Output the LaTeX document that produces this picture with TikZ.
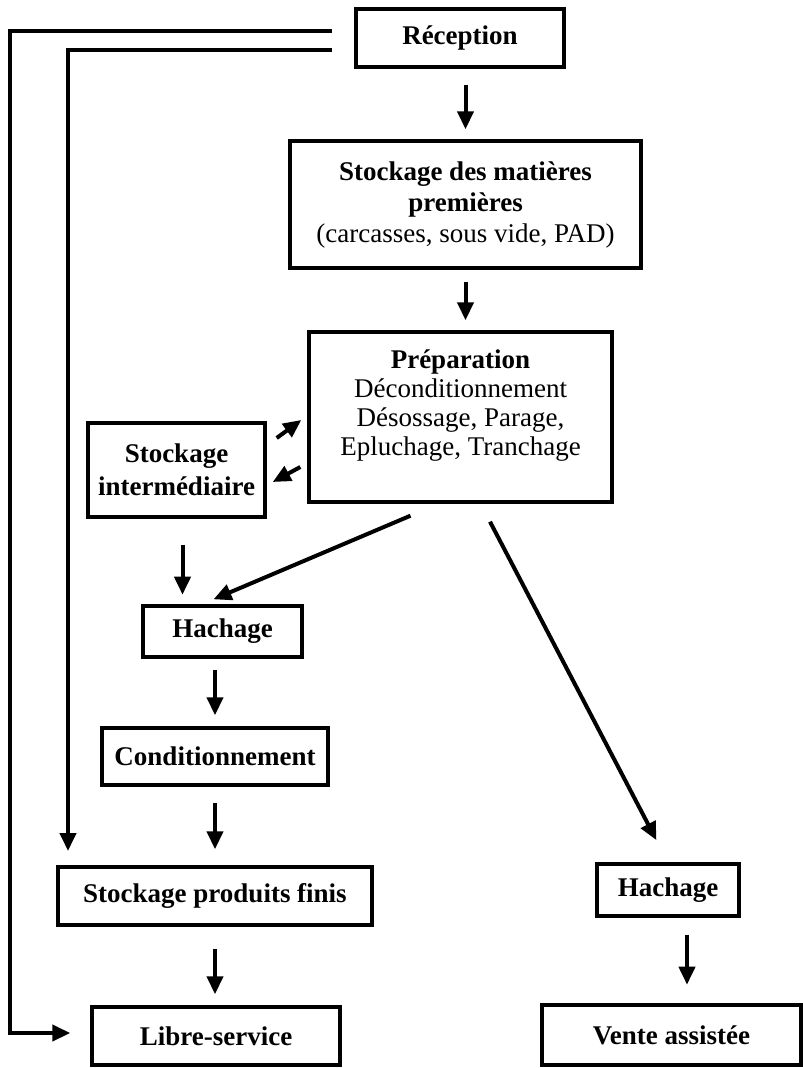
\documentclass[tikz,border=0pt]{standalone}
\usepackage{fontspec}
\setmainfont{Liberation Serif}
\usetikzlibrary{arrows.meta,calc}
\tikzset{
  box/.style={draw=black, line width=3.4pt, inner sep=0pt, align=center,
    font=\fontsize{27}{31}\selectfont\bfseries},
  arr/.style={draw=black, line width=4pt, -{Triangle[length=18pt,width=16pt]}}
}
\begin{document}
\begin{tikzpicture}[x=1pt,y=-1pt]
\useasboundingbox (0,0) rectangle (803,1068);
% boxes
\node[box, minimum width=208, minimum height=58] (rec) at (460,38) {R\'eception};
\node[box, minimum width=351, minimum height=127] (smp) at (465.5,204.5)
  {Stockage des mati\`eres\\premi\`eres\\\mdseries(carcasses, sous vide, PAD)};
\node[box, minimum width=303, minimum height=170, font=\fontsize{27}{29}\selectfont] (prep) at (460.5,417)
  {\bfseries Pr\'eparation\\D\'econditionnement\\D\'esossage, Parage,\\Epluchage, Tranchage\\\mbox{}};
\node[box, minimum width=177, minimum height=94, font=\fontsize{27}{33}\selectfont\bfseries] (si) at (176.5,470)
  {Stockage\\interm\'ediaire};
\node[box, minimum width=159, minimum height=51] (hachL) at (222.5,631.5) {Hachage};
\node[box, minimum width=226, minimum height=57] (cond) at (215,756.5) {Conditionnement};
\node[box, minimum width=314, minimum height=58] (spf) at (215,896) {Stockage produits finis};
\node[box, minimum width=248, minimum height=58] (ls) at (216,1036) {Libre-service};
\node[box, minimum width=142, minimum height=52] (hachR) at (668,890) {Hachage};
\node[box, minimum width=259, minimum height=60] (va) at (671.5,1035) {Vente assist\'ee};
% coordinates for the side lines
\coordinate (o1) at ($(rec.west)+(-22,-7)$);
\coordinate (o2) at (10,31);
\coordinate (o3) at (10,1033);
\coordinate (o4) at ($(ls.west)+(-20,-3)$);
\coordinate (i1) at ($(rec.west)+(-22,12)$);
\coordinate (i2) at (68,50);
\coordinate (i3) at (68,851);
% connectors
\draw[arr, shorten <=16pt, shorten >=10pt] (rec.south -| smp.north) -- (smp.north);
\draw[arr, shorten <=12pt, shorten >=10pt] (smp.south) -- (smp.south |- prep.north);
\draw[arr] ($(si.east)+(10,-32)$) -- ($(prep.west)+(-6,3)$);
\draw[arr] ($(prep.west)+(-7,50)$) -- ($(si.east)+(6,12)$);
\draw[arr] ($(si.south)+(6,26)$) -- ($(si.south)+(6,76)$);
\draw[arr] ($(prep.south)+(-50,12)$) -- ($(hachL.north)+(-9,-5)$);
\draw[arr, shorten <=11pt, shorten >=11pt] (hachL.south -| cond.north) -- (cond.north);
\draw[arr, shorten <=16pt, shorten >=16pt] (cond.south) -- (spf.north);
\draw[arr, shorten <=22pt, shorten >=11pt] (spf.south) -- (spf.south |- ls.north);
\draw[arr, shorten >=25pt] ($(prep.south)+(29.5,18)$) -- (hachR.north);
\draw[arr] ($(hachR.south)+(19,17)$) -- ($(hachR.south)+(19,67)$);
\draw[arr] (o1) -- (o2) -- (o3) -- (o4);
\draw[arr] (i1) -- (i2) -- (i3);
\end{tikzpicture}
\end{document}
